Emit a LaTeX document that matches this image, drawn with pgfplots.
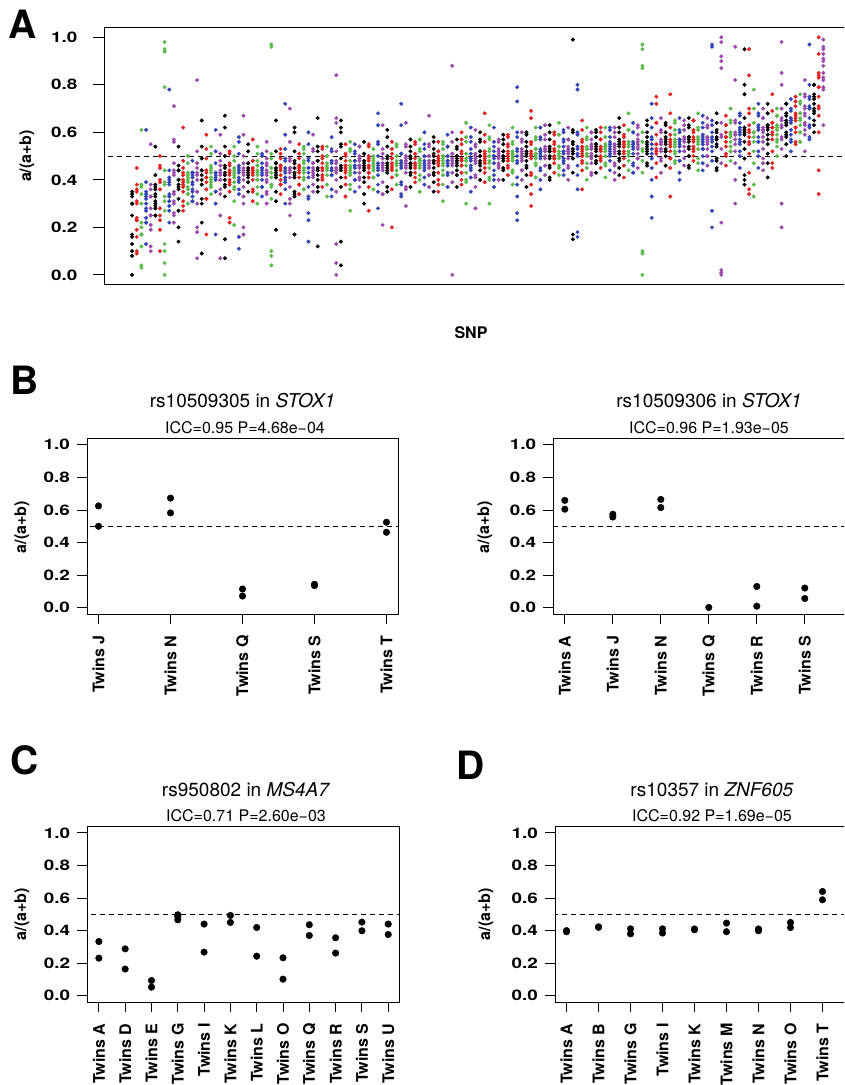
\documentclass[border=0pt]{standalone}
\usepackage{pgfplots}
\usepackage{pgfplotstable}
\pgfplotsset{compat=1.18}
\usepackage{fontspec}
\setmainfont{TeX Gyre Heros}
\newfontfamily\numfont[FakeStretch=1.3]{TeX Gyre Heros}
\definecolor{cR}{HTML}{E02222}
\definecolor{cG}{HTML}{5BBA4C}
\definecolor{cB}{HTML}{3343B5}
\definecolor{cP}{HTML}{9A4AAB}
\newcommand{\axf}{\bfseries\fontsize{16}{16}\selectfont}
\newcommand{\nf}{\numfont\bfseries\fontsize{14.5}{14.5}\selectfont}

\pgfplotstableread{
i c y1 y2 y3 y4 y5 y6 y7 y8 y9 y10
1 k 0.00 0.08 0.10 0.16 0.35 0.30 0.33 0.34 nan nan
2 r 0.30 0.24 0.23 0.16 0.10 0.09 0.35 0.38 0.45 nan
3 g 0.61 0.38 0.37 0.17 0.12 0.04 0.03 0.20 nan nan
4 b 0.24 0.22 0.27 0.32 0.30 0.35 0.13 0.33 0.61 nan
5 p 0.55 0.19 0.12 0.10 0.28 0.33 0.36 0.25 nan nan
6 k 0.34 0.31 0.28 0.36 0.33 0.25 0.38 0.30 0.54 nan
7 r 0.46 0.45 0.36 0.28 0.25 0.19 0.10 0.39 0.50 nan
8 g 0.79 0.98 0.95 0.94 0.13 0.10 0.05 0.00 0.38 0.31
9 b 0.78 0.40 0.38 0.34 0.29 0.22 0.33 0.41 nan nan
10 p 0.71 0.57 0.56 0.44 0.43 0.31 0.26 0.25 0.22 0.35
11 k 0.54 0.46 0.44 0.40 0.38 0.36 0.20 0.14 0.37 nan
12 r 0.62 0.45 0.42 0.40 0.38 0.35 0.29 0.27 0.39 nan
13 g 0.50 0.43 0.41 0.39 0.37 0.34 0.36 0.40 nan nan
14 b 0.43 0.41 0.39 0.38 0.36 0.33 0.31 0.42 nan nan
15 p 0.82 0.52 0.47 0.45 0.40 0.35 0.20 0.18 0.07 0.42
16 k 0.65 0.54 0.44 0.42 0.40 0.30 0.22 0.09 0.38 nan
17 r 0.59 0.53 0.43 0.41 0.39 0.32 0.17 0.41 nan nan
18 g 0.54 0.45 0.43 0.41 0.39 0.37 0.40 0.44 nan nan
19 b 0.61 0.52 0.42 0.41 0.40 0.35 0.17 0.43 nan nan
20 p 0.59 0.48 0.44 0.42 0.40 0.36 0.25 0.07 0.43 nan
21 k 0.67 0.62 0.54 0.46 0.42 0.40 0.38 0.15 0.07 0.43
22 r 0.51 0.46 0.43 0.42 0.40 0.38 0.24 0.22 0.44 nan
23 g 0.54 0.50 0.45 0.43 0.41 0.39 0.37 0.21 0.42 nan
24 b 0.58 0.56 0.45 0.43 0.41 0.39 0.36 0.16 0.11 0.44
25 p 0.67 0.59 0.47 0.44 0.42 0.40 0.30 0.20 0.17 0.43
26 k 0.55 0.47 0.45 0.43 0.42 0.41 0.39 0.44 nan nan
27 r 0.57 0.48 0.45 0.43 0.42 0.40 0.35 0.44 nan nan
28 g 0.54 0.48 0.46 0.44 0.42 0.40 0.37 0.30 0.43 nan
29 b 0.51 0.47 0.45 0.43 0.42 0.40 0.37 0.44 nan nan
30 p 0.56 0.49 0.46 0.44 0.42 0.40 0.34 0.30 0.43 nan
31 g 0.97 0.96 0.51 0.45 0.43 0.41 0.38 0.10 0.08 0.04
32 k 0.65 0.47 0.45 0.43 0.42 0.31 0.19 0.44 nan nan
33 r 0.53 0.49 0.46 0.44 0.42 0.40 0.38 0.45 nan nan
34 b 0.72 0.59 0.49 0.45 0.43 0.41 0.39 0.30 0.44 nan
35 p 0.70 0.56 0.48 0.45 0.43 0.41 0.30 0.25 0.44 nan
36 k 0.62 0.60 0.48 0.45 0.43 0.42 0.34 0.33 0.17 nan
37 r 0.55 0.49 0.46 0.44 0.43 0.41 0.38 0.45 nan nan
38 g 0.54 0.51 0.47 0.45 0.43 0.41 0.36 0.44 nan nan
39 b 0.60 0.55 0.48 0.45 0.43 0.41 0.33 0.26 0.23 0.14
40 p 0.59 0.53 0.47 0.45 0.43 0.42 0.38 0.44 nan nan
41 k 0.66 0.54 0.48 0.45 0.44 0.42 0.37 0.12 0.44 nan
42 r 0.53 0.50 0.47 0.45 0.44 0.42 0.40 0.45 nan nan
43 g 0.54 0.50 0.47 0.45 0.44 0.42 0.38 0.45 nan nan
44 b 0.58 0.52 0.47 0.45 0.44 0.42 0.33 0.44 nan nan
45 p 0.84 0.66 0.64 0.47 0.45 0.44 0.13 0.05 0.00 0.43
46 k 0.65 0.62 0.60 0.55 0.46 0.44 0.14 0.04 0.45 nan
47 r 0.55 0.51 0.48 0.46 0.44 0.43 0.41 0.45 nan nan
48 g 0.56 0.52 0.48 0.46 0.44 0.43 0.38 0.27 0.45 nan
49 b 0.55 0.51 0.48 0.46 0.45 0.43 0.40 0.46 nan nan
50 p 0.54 0.50 0.48 0.46 0.45 0.43 0.40 0.46 nan nan
51 k 0.56 0.51 0.48 0.46 0.45 0.44 0.41 0.30 nan nan
52 r 0.55 0.50 0.48 0.46 0.45 0.43 0.41 0.27 0.46 nan
53 g 0.53 0.50 0.48 0.46 0.45 0.44 0.41 0.47 nan nan
54 b 0.68 0.63 0.56 0.47 0.45 0.44 0.35 0.28 0.46 nan
55 p 0.63 0.53 0.49 0.47 0.45 0.44 0.34 0.21 0.46 nan
56 k 0.61 0.58 0.50 0.47 0.45 0.44 0.35 0.46 nan nan
57 r 0.56 0.51 0.49 0.47 0.45 0.44 0.20 0.46 nan nan
58 g 0.54 0.50 0.48 0.47 0.46 0.44 0.42 0.47 nan nan
59 b 0.72 0.63 0.51 0.48 0.46 0.45 0.38 0.33 0.47 nan
60 p 0.64 0.55 0.50 0.48 0.46 0.45 0.36 0.29 0.47 nan
61 k 0.57 0.52 0.49 0.47 0.46 0.45 0.43 0.47 nan nan
62 r 0.55 0.51 0.49 0.47 0.46 0.45 0.41 0.47 nan nan
63 g 0.57 0.53 0.49 0.48 0.46 0.45 0.42 0.47 nan nan
64 b 0.60 0.53 0.50 0.48 0.46 0.45 0.41 0.47 nan nan
65 p 0.67 0.55 0.50 0.48 0.46 0.45 0.42 0.47 nan nan
66 k 0.58 0.53 0.50 0.48 0.47 0.45 0.42 0.35 0.48 nan
67 r 0.56 0.52 0.50 0.48 0.47 0.46 0.43 0.38 0.49 nan
68 g 0.56 0.53 0.50 0.48 0.47 0.46 0.42 0.31 0.49 nan
69 b 0.59 0.54 0.50 0.48 0.47 0.46 0.43 0.37 0.48 nan
70 p 0.88 0.60 0.51 0.49 0.47 0.46 0.00 0.48 nan nan
71 k 0.57 0.53 0.50 0.49 0.47 0.46 0.44 0.48 nan nan
72 r 0.60 0.55 0.51 0.49 0.48 0.46 0.43 0.38 0.48 nan
73 g 0.64 0.58 0.51 0.49 0.48 0.46 0.40 0.30 0.49 nan
74 b 0.62 0.56 0.51 0.49 0.48 0.46 0.44 0.35 0.49 nan
75 p 0.61 0.55 0.51 0.49 0.48 0.47 0.41 0.28 0.50 nan
76 k 0.60 0.56 0.52 0.50 0.48 0.47 0.44 0.50 nan nan
77 r 0.68 0.59 0.52 0.50 0.48 0.47 0.45 0.49 nan nan
78 g 0.63 0.57 0.52 0.50 0.48 0.47 0.40 0.30 0.50 nan
79 b 0.62 0.56 0.52 0.50 0.49 0.47 0.44 0.40 0.50 nan
80 p 0.56 0.53 0.51 0.50 0.49 0.47 0.45 0.50 nan nan
81 k 0.59 0.55 0.52 0.50 0.49 0.48 0.45 0.50 nan nan
82 r 0.58 0.55 0.52 0.50 0.49 0.48 0.45 0.51 nan nan
83 g 0.62 0.56 0.52 0.51 0.49 0.48 0.44 0.50 nan nan
84 b 0.79 0.73 0.60 0.52 0.50 0.48 0.38 0.33 0.26 0.23
85 p 0.60 0.56 0.53 0.51 0.49 0.48 0.44 0.50 nan nan
86 k 0.60 0.56 0.52 0.51 0.50 0.48 0.45 0.37 nan nan
87 r 0.69 0.66 0.56 0.52 0.50 0.49 0.42 0.34 0.29 0.51
88 g 0.62 0.57 0.53 0.51 0.50 0.49 0.46 0.51 nan nan
89 b 0.62 0.58 0.53 0.51 0.50 0.49 0.45 0.36 0.52 nan
90 p 0.63 0.57 0.53 0.52 0.50 0.49 0.46 0.52 nan nan
91 k 0.63 0.60 0.54 0.52 0.50 0.49 0.46 0.41 0.52 nan
92 r 0.59 0.56 0.53 0.52 0.50 0.49 0.47 0.52 nan nan
93 g 0.64 0.59 0.54 0.52 0.50 0.49 0.45 0.51 nan nan
94 b 0.60 0.57 0.54 0.52 0.51 0.49 0.47 0.42 0.52 nan
95 p 0.62 0.57 0.54 0.52 0.51 0.49 0.46 0.52 nan nan
96 k 0.99 0.61 0.56 0.52 0.51 0.49 0.17 0.15 0.53 nan
97 b 0.80 0.78 0.60 0.53 0.51 0.50 0.36 0.18 0.16 nan
98 r 0.65 0.57 0.54 0.52 0.51 0.50 0.47 0.36 0.53 nan
99 g 0.62 0.58 0.54 0.53 0.51 0.50 0.47 0.53 nan nan
100 p 0.60 0.57 0.54 0.53 0.51 0.50 0.47 0.42 0.53 nan
101 k 0.61 0.58 0.55 0.53 0.52 0.50 0.48 0.54 nan nan
102 r 0.60 0.57 0.54 0.53 0.52 0.50 0.48 0.53 nan nan
103 g 0.62 0.58 0.55 0.53 0.52 0.50 0.47 0.54 nan nan
104 b 0.62 0.58 0.55 0.53 0.52 0.51 0.48 0.54 nan nan
105 p 0.62 0.58 0.55 0.53 0.52 0.51 0.46 0.40 0.54 nan
106 k 0.66 0.60 0.56 0.54 0.52 0.51 0.48 0.42 0.55 nan
107 r 0.63 0.59 0.56 0.54 0.52 0.51 0.49 0.55 nan nan
108 g 0.68 0.61 0.56 0.54 0.52 0.51 0.48 0.55 nan nan
109 b 0.64 0.60 0.56 0.54 0.53 0.51 0.46 0.43 0.55 nan
110 p 0.63 0.59 0.56 0.54 0.53 0.51 0.49 0.55 nan nan
111 g 0.97 0.95 0.88 0.87 0.56 0.53 0.10 0.09 0.00 0.52
112 k 0.65 0.60 0.56 0.54 0.53 0.51 0.47 0.55 nan nan
113 b 0.72 0.66 0.58 0.55 0.53 0.51 0.40 0.33 0.24 nan
114 r 0.75 0.72 0.64 0.55 0.53 0.52 0.41 0.55 nan nan
115 p 0.66 0.61 0.57 0.55 0.53 0.52 0.49 0.56 nan nan
116 k 0.64 0.60 0.57 0.55 0.53 0.52 0.50 0.56 nan nan
117 r 0.76 0.68 0.59 0.55 0.54 0.52 0.49 0.33 0.56 nan
118 g 0.65 0.61 0.57 0.55 0.54 0.52 0.48 0.56 nan nan
119 b 0.66 0.61 0.57 0.55 0.54 0.52 0.48 0.40 0.57 nan
120 p 0.65 0.61 0.57 0.56 0.54 0.52 0.49 0.57 nan nan
121 k 0.66 0.62 0.58 0.56 0.54 0.53 0.50 0.45 0.57 nan
122 r 0.65 0.61 0.58 0.56 0.54 0.53 0.50 0.57 nan nan
123 g 0.68 0.62 0.58 0.56 0.55 0.53 0.47 0.57 nan nan
124 b 0.67 0.62 0.58 0.56 0.55 0.53 0.50 0.44 0.57 nan
125 p 0.66 0.62 0.58 0.56 0.55 0.53 0.50 0.57 nan nan
126 b 0.97 0.96 0.63 0.58 0.56 0.54 0.27 0.20 0.57 nan
127 k 0.68 0.64 0.60 0.57 0.55 0.54 0.48 0.45 0.58 nan
128 p 1.00 0.98 0.92 0.90 0.87 0.58 0.22 0.02 0.01 0.00
129 r 0.67 0.63 0.60 0.58 0.56 0.54 0.51 0.58 nan nan
130 g 0.70 0.64 0.60 0.58 0.56 0.54 0.52 0.59 nan nan
131 p 0.96 0.82 0.65 0.59 0.57 0.55 0.40 0.30 0.59 nan
132 b 0.68 0.64 0.61 0.59 0.57 0.55 0.52 0.45 0.60 nan
133 k 0.95 0.80 0.76 0.62 0.59 0.56 0.42 0.38 0.40 0.60
134 r 0.95 0.84 0.70 0.61 0.58 0.56 0.43 0.36 0.34 0.60
135 g 0.78 0.70 0.64 0.60 0.58 0.56 0.38 0.33 0.60 nan
136 b 0.72 0.68 0.63 0.61 0.58 0.56 0.52 0.45 0.61 nan
137 p 0.70 0.66 0.62 0.60 0.58 0.56 0.47 0.44 0.61 nan
138 k 0.72 0.68 0.63 0.61 0.59 0.57 0.47 0.41 0.62 nan
139 r 0.76 0.69 0.64 0.62 0.59 0.57 0.45 0.62 nan nan
140 g 0.70 0.67 0.63 0.61 0.59 0.57 0.54 0.62 nan nan
141 p 0.98 0.85 0.80 0.66 0.62 0.58 0.30 0.20 0.63 nan
142 k 0.72 0.68 0.65 0.63 0.60 0.58 0.50 0.64 nan nan
143 b 0.74 0.70 0.66 0.64 0.61 0.59 0.56 0.65 nan nan
144 r 0.75 0.71 0.67 0.65 0.62 0.60 0.55 0.66 nan nan
145 g 0.76 0.72 0.68 0.65 0.63 0.60 0.56 0.66 nan nan
146 p 0.82 0.75 0.70 0.67 0.64 0.61 0.52 0.68 nan nan
147 b 0.97 0.80 0.75 0.70 0.66 0.63 0.58 0.71 nan nan
148 k 0.80 0.76 0.72 0.70 0.68 0.65 0.60 0.74 nan nan
149 r 1.00 0.93 0.85 0.83 0.79 0.75 0.70 0.60 0.44 0.34
150 p 0.99 0.95 0.93 0.90 0.88 0.85 0.82 0.78 0.63 nan
}\dataA

\pgfplotstableread{
i c z1 z2 z3 z4
1 k 0.30 0.25 0.17 0.13
2 r 0.36 0.31 0.23 0.19
3 g 0.34 0.30 0.22 0.17
4 b 0.39 0.34 0.28 0.22
5 p 0.38 0.33 0.25 0.21
6 k 0.42 0.37 0.29 0.25
7 r 0.40 0.36 0.28 0.23
8 g 0.44 0.39 0.33 0.27
9 b 0.44 0.39 0.31 0.27
10 p 0.47 0.42 0.34 0.30
11 k 0.44 0.40 0.32 0.27
12 r 0.48 0.43 0.37 0.31
13 g 0.47 0.42 0.34 0.30
14 b 0.48 0.43 0.35 0.31
15 p 0.47 0.43 0.35 0.30
16 k 0.49 0.44 0.38 0.32
17 r 0.49 0.44 0.36 0.32
18 g 0.51 0.46 0.38 0.34
19 b 0.47 0.43 0.35 0.30
20 p 0.51 0.46 0.40 0.34
21 k 0.50 0.45 0.37 0.33
22 r 0.52 0.47 0.39 0.35
23 g 0.48 0.44 0.36 0.31
24 b 0.51 0.46 0.40 0.34
25 p 0.50 0.45 0.37 0.33
26 k 0.52 0.47 0.39 0.35
27 r 0.48 0.44 0.36 0.31
28 g 0.51 0.46 0.40 0.34
29 b 0.50 0.45 0.37 0.33
30 p 0.52 0.47 0.39 0.35
31 g 0.49 0.45 0.37 0.32
32 k 0.52 0.47 0.41 0.35
33 r 0.51 0.46 0.38 0.34
34 b 0.53 0.48 0.40 0.36
35 p 0.49 0.45 0.37 0.32
36 k 0.52 0.47 0.41 0.35
37 r 0.51 0.46 0.38 0.34
38 g 0.53 0.48 0.40 0.36
39 b 0.49 0.45 0.37 0.32
40 p 0.52 0.47 0.41 0.35
41 k 0.52 0.48 0.40 0.35
42 r 0.54 0.49 0.41 0.37
43 g 0.50 0.46 0.38 0.33
44 b 0.53 0.48 0.42 0.36
45 p 0.52 0.48 0.40 0.35
46 k 0.54 0.49 0.41 0.37
47 r 0.50 0.46 0.38 0.33
48 g 0.53 0.48 0.42 0.36
49 b 0.52 0.48 0.40 0.35
50 p 0.54 0.49 0.41 0.37
51 k 0.51 0.47 0.39 0.34
52 r 0.54 0.49 0.43 0.37
53 g 0.53 0.49 0.41 0.36
54 b 0.55 0.50 0.42 0.38
55 p 0.51 0.47 0.39 0.34
56 k 0.54 0.49 0.43 0.37
57 r 0.53 0.49 0.41 0.36
58 g 0.55 0.50 0.42 0.38
59 b 0.51 0.47 0.39 0.34
60 p 0.54 0.49 0.43 0.37
61 k 0.54 0.50 0.42 0.37
62 r 0.56 0.51 0.43 0.39
63 g 0.52 0.48 0.40 0.35
64 b 0.55 0.50 0.44 0.38
65 p 0.54 0.50 0.42 0.37
66 k 0.56 0.51 0.43 0.39
67 r 0.52 0.48 0.40 0.35
68 g 0.55 0.50 0.44 0.38
69 b 0.54 0.50 0.42 0.37
70 p 0.56 0.51 0.43 0.39
71 k 0.54 0.50 0.42 0.37
72 r 0.57 0.52 0.46 0.40
73 g 0.56 0.51 0.43 0.39
74 b 0.58 0.53 0.45 0.41
75 p 0.54 0.50 0.42 0.37
76 k 0.57 0.52 0.46 0.40
77 r 0.56 0.51 0.43 0.39
78 g 0.58 0.53 0.45 0.41
79 b 0.54 0.50 0.42 0.37
80 p 0.57 0.52 0.46 0.40
81 k 0.57 0.52 0.44 0.40
82 r 0.59 0.54 0.46 0.42
83 g 0.55 0.51 0.43 0.38
84 b 0.58 0.53 0.47 0.41
85 p 0.57 0.52 0.44 0.40
86 k 0.59 0.54 0.46 0.42
87 r 0.55 0.51 0.43 0.38
88 g 0.58 0.53 0.47 0.41
89 b 0.57 0.52 0.44 0.40
90 p 0.59 0.54 0.46 0.42
91 k 0.57 0.53 0.45 0.40
92 r 0.60 0.55 0.49 0.43
93 g 0.59 0.54 0.46 0.42
94 b 0.61 0.56 0.48 0.44
95 p 0.57 0.53 0.45 0.40
96 k 0.60 0.55 0.49 0.43
97 b 0.59 0.54 0.46 0.42
98 r 0.61 0.56 0.48 0.44
99 g 0.57 0.53 0.45 0.40
100 p 0.60 0.55 0.49 0.43
101 k 0.60 0.55 0.47 0.43
102 r 0.62 0.57 0.49 0.45
103 g 0.58 0.54 0.46 0.41
104 b 0.61 0.56 0.50 0.44
105 p 0.60 0.55 0.47 0.43
106 k 0.62 0.57 0.49 0.45
107 r 0.58 0.54 0.46 0.41
108 g 0.61 0.56 0.50 0.44
109 b 0.60 0.55 0.47 0.43
110 p 0.62 0.57 0.49 0.45
111 g 0.60 0.56 0.48 0.43
112 k 0.63 0.58 0.52 0.46
113 b 0.62 0.57 0.49 0.45
114 r 0.64 0.59 0.51 0.47
115 p 0.60 0.56 0.48 0.43
116 k 0.63 0.58 0.52 0.46
117 r 0.62 0.57 0.49 0.45
118 g 0.64 0.59 0.51 0.47
119 b 0.60 0.56 0.48 0.43
120 p 0.63 0.58 0.52 0.46
121 k 0.63 0.58 0.50 0.46
122 r 0.65 0.60 0.52 0.48
123 g 0.61 0.57 0.49 0.44
124 b 0.64 0.59 0.53 0.47
125 p 0.63 0.58 0.50 0.46
126 b 0.65 0.60 0.52 0.48
127 k 0.61 0.57 0.49 0.44
128 p 0.64 0.59 0.53 0.47
129 r 0.63 0.58 0.50 0.46
130 g 0.65 0.60 0.52 0.48
131 p 0.64 0.60 0.52 0.47
132 b 0.67 0.62 0.56 0.50
133 k 0.66 0.61 0.53 0.49
134 r 0.68 0.63 0.55 0.51
135 g 0.64 0.60 0.52 0.47
136 b 0.67 0.62 0.56 0.50
137 p 0.66 0.61 0.53 0.49
138 k 0.68 0.63 0.55 0.51
139 r 0.64 0.60 0.52 0.47
140 g 0.67 0.62 0.56 0.50
141 p 0.70 0.65 0.57 0.53
142 k 0.72 0.67 0.59 0.55
143 b 0.69 0.65 0.57 0.52
144 r 0.73 0.68 0.62 0.56
145 g 0.73 0.68 0.60 0.56
146 p 0.76 0.71 0.63 0.59
147 b 0.74 0.70 0.62 0.57
148 k 0.80 0.75 0.69 0.63
149 r 0.84 0.79 0.71 0.67
150 p 0.96 0.91 0.83 0.79
}\dataAx

\pgfplotstableread{
x y
1 0.625
1 0.500
2 0.673
2 0.582
3 0.115
3 0.072
4 0.144
4 0.136
5 0.525
5 0.463
}\dataBa

\pgfplotstableread{
x y
1 0.659
1 0.605
2 0.574
2 0.557
3 0.665
3 0.615
4 0.002
5 0.131
5 0.010
6 0.121
6 0.057
}\dataBb

\pgfplotstableread{
x y
1 0.333
1 0.231
2 0.288
2 0.164
3 0.094
3 0.053
4 0.497
4 0.487
4 0.466
5 0.440
5 0.268
6 0.493
6 0.450
7 0.419
7 0.243
8 0.233
8 0.102
9 0.436
9 0.370
10 0.356
10 0.262
11 0.452
11 0.399
12 0.440
12 0.376
}\dataC

\pgfplotstableread{
x y
1 0.400
1 0.393
2 0.423
2 0.420
3 0.411
3 0.380
4 0.411
4 0.385
5 0.410
5 0.405
6 0.446
6 0.393
7 0.410
7 0.399
8 0.450
8 0.419
9 0.640
9 0.589
}\dataD

\pgfplotsset{
  rplot/.style={
    scale only axis,
    axis line style={line width=1pt},
    every tick/.style={line width=1pt, black},
    tick align=outside,
    major tick length=10pt,
    ymin=-0.04, ymax=1.04,
    ytick={0,0.2,0.4,0.6,0.8,1},
    /pgf/number format/assume math mode=true,
    yticklabel={\pgfmathprintnumber[fixed,fixed zerofill,precision=1]{\tick}},
    yticklabel style={font=\nf, anchor=east, inner xsep=7pt},
    xticklabel style={font=\axf, rotate=90, anchor=east, inner xsep=11pt},
    ytick pos=left, xtick pos=bottom,
  },
  small/.style={rplot, width=311pt, height=176pt},
  snp/.style={scatter, only marks, scatter src=explicit symbolic, mark size=1.8pt,
  scatter/classes={k={mark=*,draw=black,fill=black}, r={mark=*,draw=cR,fill=cR},
  g={mark=*,draw=cG,fill=cG}, b={mark=*,draw=cB,fill=cB}, p={mark=*,draw=cP,fill=cP}}},
}

\begin{document}
\begin{tikzpicture}[x=1pt,y=1pt]
\useasboundingbox (0pt,0pt) rectangle (844pt,1085pt);
\clip (0pt,0pt) rectangle (844pt,1085pt);

% ---------- Panel A ----------
\begin{axis}[rplot, at={(104.5pt,800.6pt)}, anchor=south west,
  width=746.5pt, height=256.6pt, major tick length=12pt,
  yticklabel style={inner xsep=15pt},
  xmin=-4.96, xmax=155.96, xtick=\empty]
\addplot[black, line width=0.9pt, dash pattern=on 5pt off 4pt] coordinates {(-10,0.5) (170,0.5)};
\pgfplotsinvokeforeach{1,...,4}{
\addplot[snp] table[x=i, y=z#1, meta=c] {\dataAx};
}
\pgfplotsinvokeforeach{1,...,10}{
\addplot[snp] table[x=i, y=y#1, meta=c] {\dataA};
}
\end{axis}

% ---------- Panel B left ----------
\begin{axis}[small, at={(87pt,470.7pt)}, anchor=south west,
  xmin=0.84, xmax=5.16, xtick={1,...,5},
  xticklabels={Twins J,Twins N,Twins Q,Twins S,Twins T}]
\addplot[black, line width=0.9pt, dash pattern=on 5pt off 4pt] coordinates {(0,0.5) (10,0.5)};
\addplot[only marks, mark=*, mark size=3.3pt, black] table[x=x,y=y] {\dataBa};
\end{axis}

% ---------- Panel B right ----------
\begin{axis}[small, at={(553.3pt,470.7pt)}, anchor=south west,
  xmin=0.76, xmax=7.24, xtick={1,...,6},
  xticklabels={Twins A,Twins J,Twins N,Twins Q,Twins R,Twins S}]
\addplot[black, line width=0.9pt, dash pattern=on 5pt off 4pt] coordinates {(0,0.5) (10,0.5)};
\addplot[only marks, mark=*, mark size=3.3pt, black] table[x=x,y=y] {\dataBb};
\end{axis}

% ---------- Panel C ----------
\begin{axis}[small, at={(87.3pt,82.7pt)}, anchor=south west, width=312.5pt,
  xmin=0.56, xmax=12.44, xtick={1,...,12},
  xticklabels={Twins A,Twins D,Twins E,Twins G,Twins I,Twins K,Twins L,Twins O,Twins Q,Twins R,Twins S,Twins U}]
\addplot[black, line width=0.9pt, dash pattern=on 5pt off 4pt] coordinates {(0,0.5) (13,0.5)};
\addplot[only marks, mark=*, mark size=3.3pt, black] table[x=x,y=y] {\dataC};
\end{axis}

% ---------- Panel D ----------
\begin{axis}[small, at={(555pt,82.7pt)}, anchor=south west,
  xmin=0.64, xmax=10.36, xtick={1,...,9},
  xticklabels={Twins A,Twins B,Twins G,Twins I,Twins K,Twins M,Twins N,Twins O,Twins T}]
\addplot[black, line width=0.9pt, dash pattern=on 5pt off 4pt] coordinates {(0,0.5) (11,0.5)};
\addplot[only marks, mark=*, mark size=3.3pt, black] table[x=x,y=y] {\dataD};
\end{axis}

% ---------- texts ----------
\node[font=\bfseries\fontsize{39}{39}\selectfont] at (23pt,1061pt) {A};
\node[font=\bfseries\fontsize{39}{39}\selectfont] at (25pt,705pt) {B};
\node[font=\bfseries\fontsize{39}{39}\selectfont] at (25pt,325pt) {C};
\node[font=\bfseries\fontsize{39}{39}\selectfont] at (471pt,320pt) {D};

\node[font=\axf] at (471pt,752pt) {SNP};
\node[font=\axf, rotate=90] at (27pt,929pt) {a/(a+b)};
\node[font=\axf, rotate=90] at (22pt,558pt) {a/(a+b)};
\node[font=\axf, rotate=90] at (485pt,558pt) {a/(a+b)};
\node[font=\axf, rotate=90] at (22pt,171pt) {a/(a+b)};
\node[font=\axf, rotate=90] at (486pt,171pt) {a/(a+b)};

\node[font=\fontsize{19}{19}\selectfont] at (242.5pt,684pt) {rs10509305 in \textit{STOX1}};
\node[font=\fontsize{16}{16}\selectfont] at (245pt,657pt) {ICC=0.95 P=4.68e−04};
\node[font=\fontsize{19}{19}\selectfont] at (709pt,684pt) {rs10509306 in \textit{STOX1}};
\node[font=\fontsize{16}{16}\selectfont] at (709pt,657pt) {ICC=0.96 P=1.93e−05};
\node[font=\fontsize{19}{19}\selectfont] at (246pt,295pt) {rs950802 in \textit{MS4A7}};
\node[font=\fontsize{16}{16}\selectfont] at (246pt,269pt) {ICC=0.71 P=2.60e−03};
\node[font=\fontsize{19}{19}\selectfont] at (712pt,295pt) {rs10357 in \textit{ZNF605}};
\node[font=\fontsize{16}{16}\selectfont] at (712pt,269pt) {ICC=0.92 P=1.69e−05};
\end{tikzpicture}
\end{document}
